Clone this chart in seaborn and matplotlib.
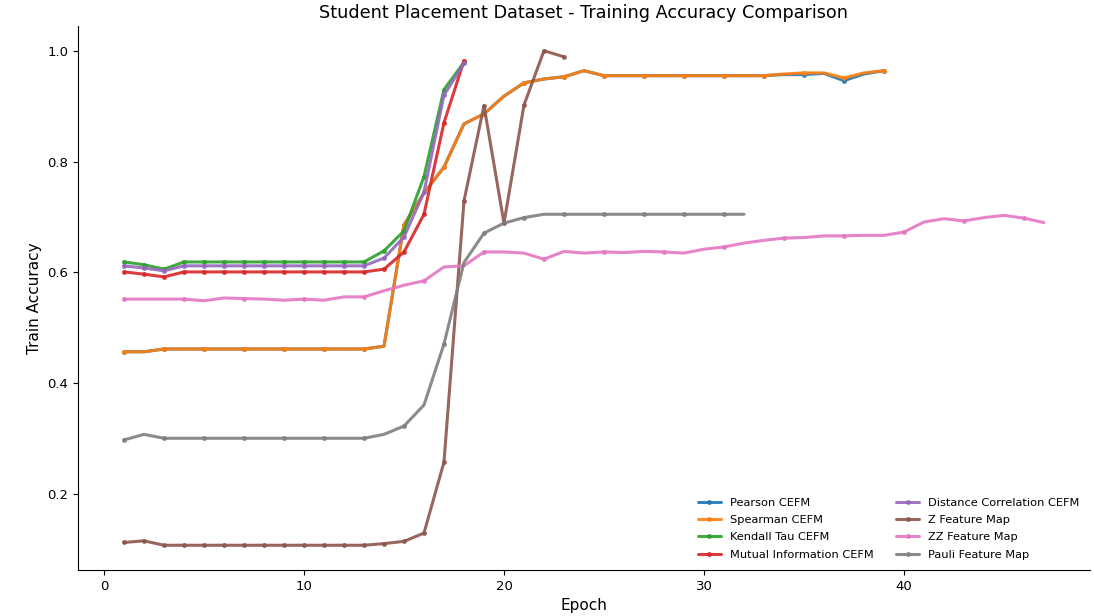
import numpy as np
import matplotlib
matplotlib.use('Agg')
import matplotlib.pyplot as plt
import seaborn as sns

sns.set_theme(style='ticks', rc={
    'text.color': 'black', 'axes.labelcolor': 'black',
    'xtick.color': 'black', 'ytick.color': 'black',
    'axes.edgecolor': 'black', 'axes.linewidth': 0.8,
    'xtick.major.size': 3.5, 'ytick.major.size': 3.5,
    'xtick.major.width': 0.8, 'ytick.major.width': 0.8,
})
plt.rcParams['font.family'] = ['DejaVu Sans']

# training accuracy per epoch
pearson = [0.457, 0.457, 0.462, 0.462, 0.462, 0.462, 0.462, 0.462, 0.462, 0.462,
           0.462, 0.462, 0.462, 0.467, 0.686, 0.743, 0.790, 0.868, 0.886, 0.918,
           0.942, 0.949, 0.953, 0.964, 0.955, 0.955, 0.955, 0.955, 0.955, 0.955,
           0.955, 0.955, 0.955, 0.957, 0.957, 0.959, 0.946, 0.958, 0.964]
spearman = [0.457, 0.457, 0.462, 0.462, 0.462, 0.462, 0.462, 0.462, 0.462, 0.462,
            0.462, 0.462, 0.462, 0.467, 0.686, 0.743, 0.790, 0.868, 0.886, 0.918,
            0.942, 0.949, 0.953, 0.964, 0.955, 0.955, 0.955, 0.955, 0.955, 0.955,
            0.955, 0.955, 0.955, 0.958, 0.960, 0.960, 0.951, 0.960, 0.964]
kendall = [0.619, 0.614, 0.606, 0.619, 0.619, 0.619, 0.619, 0.619, 0.619, 0.619,
           0.619, 0.619, 0.619, 0.639, 0.675, 0.773, 0.930, 0.979]
mutual_info = [0.601, 0.597, 0.592, 0.601, 0.601, 0.601, 0.601, 0.601, 0.601, 0.601,
               0.601, 0.601, 0.601, 0.606, 0.637, 0.705, 0.870, 0.982]
distance_corr = [0.612, 0.608, 0.603, 0.612, 0.612, 0.612, 0.612, 0.612, 0.612, 0.612,
                 0.612, 0.612, 0.612, 0.626, 0.664, 0.745, 0.920, 0.977]
z_map = [0.113, 0.116, 0.108, 0.108, 0.108, 0.108, 0.108, 0.108, 0.108, 0.108,
         0.108, 0.108, 0.108, 0.111, 0.115, 0.130, 0.258, 0.729, 0.901, 0.689,
         0.902, 1.000, 0.989]
zz_map = [0.552, 0.552, 0.552, 0.552, 0.549, 0.554, 0.553, 0.552, 0.550, 0.552,
          0.550, 0.556, 0.556, 0.567, 0.577, 0.585, 0.610, 0.612, 0.637, 0.637,
          0.635, 0.624, 0.638, 0.635, 0.637, 0.636, 0.638, 0.637, 0.635, 0.642,
          0.646, 0.653, 0.658, 0.662, 0.663, 0.666, 0.666, 0.667, 0.667, 0.673,
          0.691, 0.697, 0.693, 0.699, 0.703, 0.698, 0.690]
pauli_map = [0.298, 0.308, 0.301, 0.301, 0.301, 0.301, 0.301, 0.301, 0.301, 0.301,
             0.301, 0.301, 0.301, 0.308, 0.323, 0.361, 0.471, 0.618, 0.671, 0.689,
             0.699, 0.705, 0.705, 0.705, 0.705, 0.705, 0.705, 0.705, 0.705, 0.705,
             0.705, 0.705]

series = [
    ('Pearson CEFM', pearson),
    ('Spearman CEFM', spearman),
    ('Kendall Tau CEFM', kendall),
    ('Mutual Information CEFM', mutual_info),
    ('Distance Correlation CEFM', distance_corr),
    ('Z Feature Map', z_map),
    ('ZZ Feature Map', zz_map),
    ('Pauli Feature Map', pauli_map),
]
colors = sns.color_palette('tab10', len(series))

fig, ax = plt.subplots(figsize=(10.94, 6.16), dpi=100)
for (name, vals), c in zip(series, colors):
    epochs = np.arange(1, len(vals) + 1)
    sns.lineplot(x=epochs, y=vals, ax=ax, label=name, color=c, linewidth=2.2,
                 alpha=0.9, marker='o', markersize=3.5, markeredgewidth=0,
                 markevery=max(1, len(vals) // 15))

ax.set_title('Student Placement Dataset - Training Accuracy Comparison', fontsize=12.7)
ax.set_xlabel('Epoch', fontsize=11)
ax.set_ylabel('Train Accuracy', fontsize=11)
ax.tick_params(labelsize=9.5)
ax.set_xticks([0, 10, 20, 30, 40])
ax.legend(loc='lower right', ncol=2, frameon=False, fontsize=8.2, labelspacing=0.65)
sns.despine(ax=ax)

fig.subplots_adjust(left=0.0713, right=0.9963, top=0.9578, bottom=0.0747)
fig.savefig('out.png')
